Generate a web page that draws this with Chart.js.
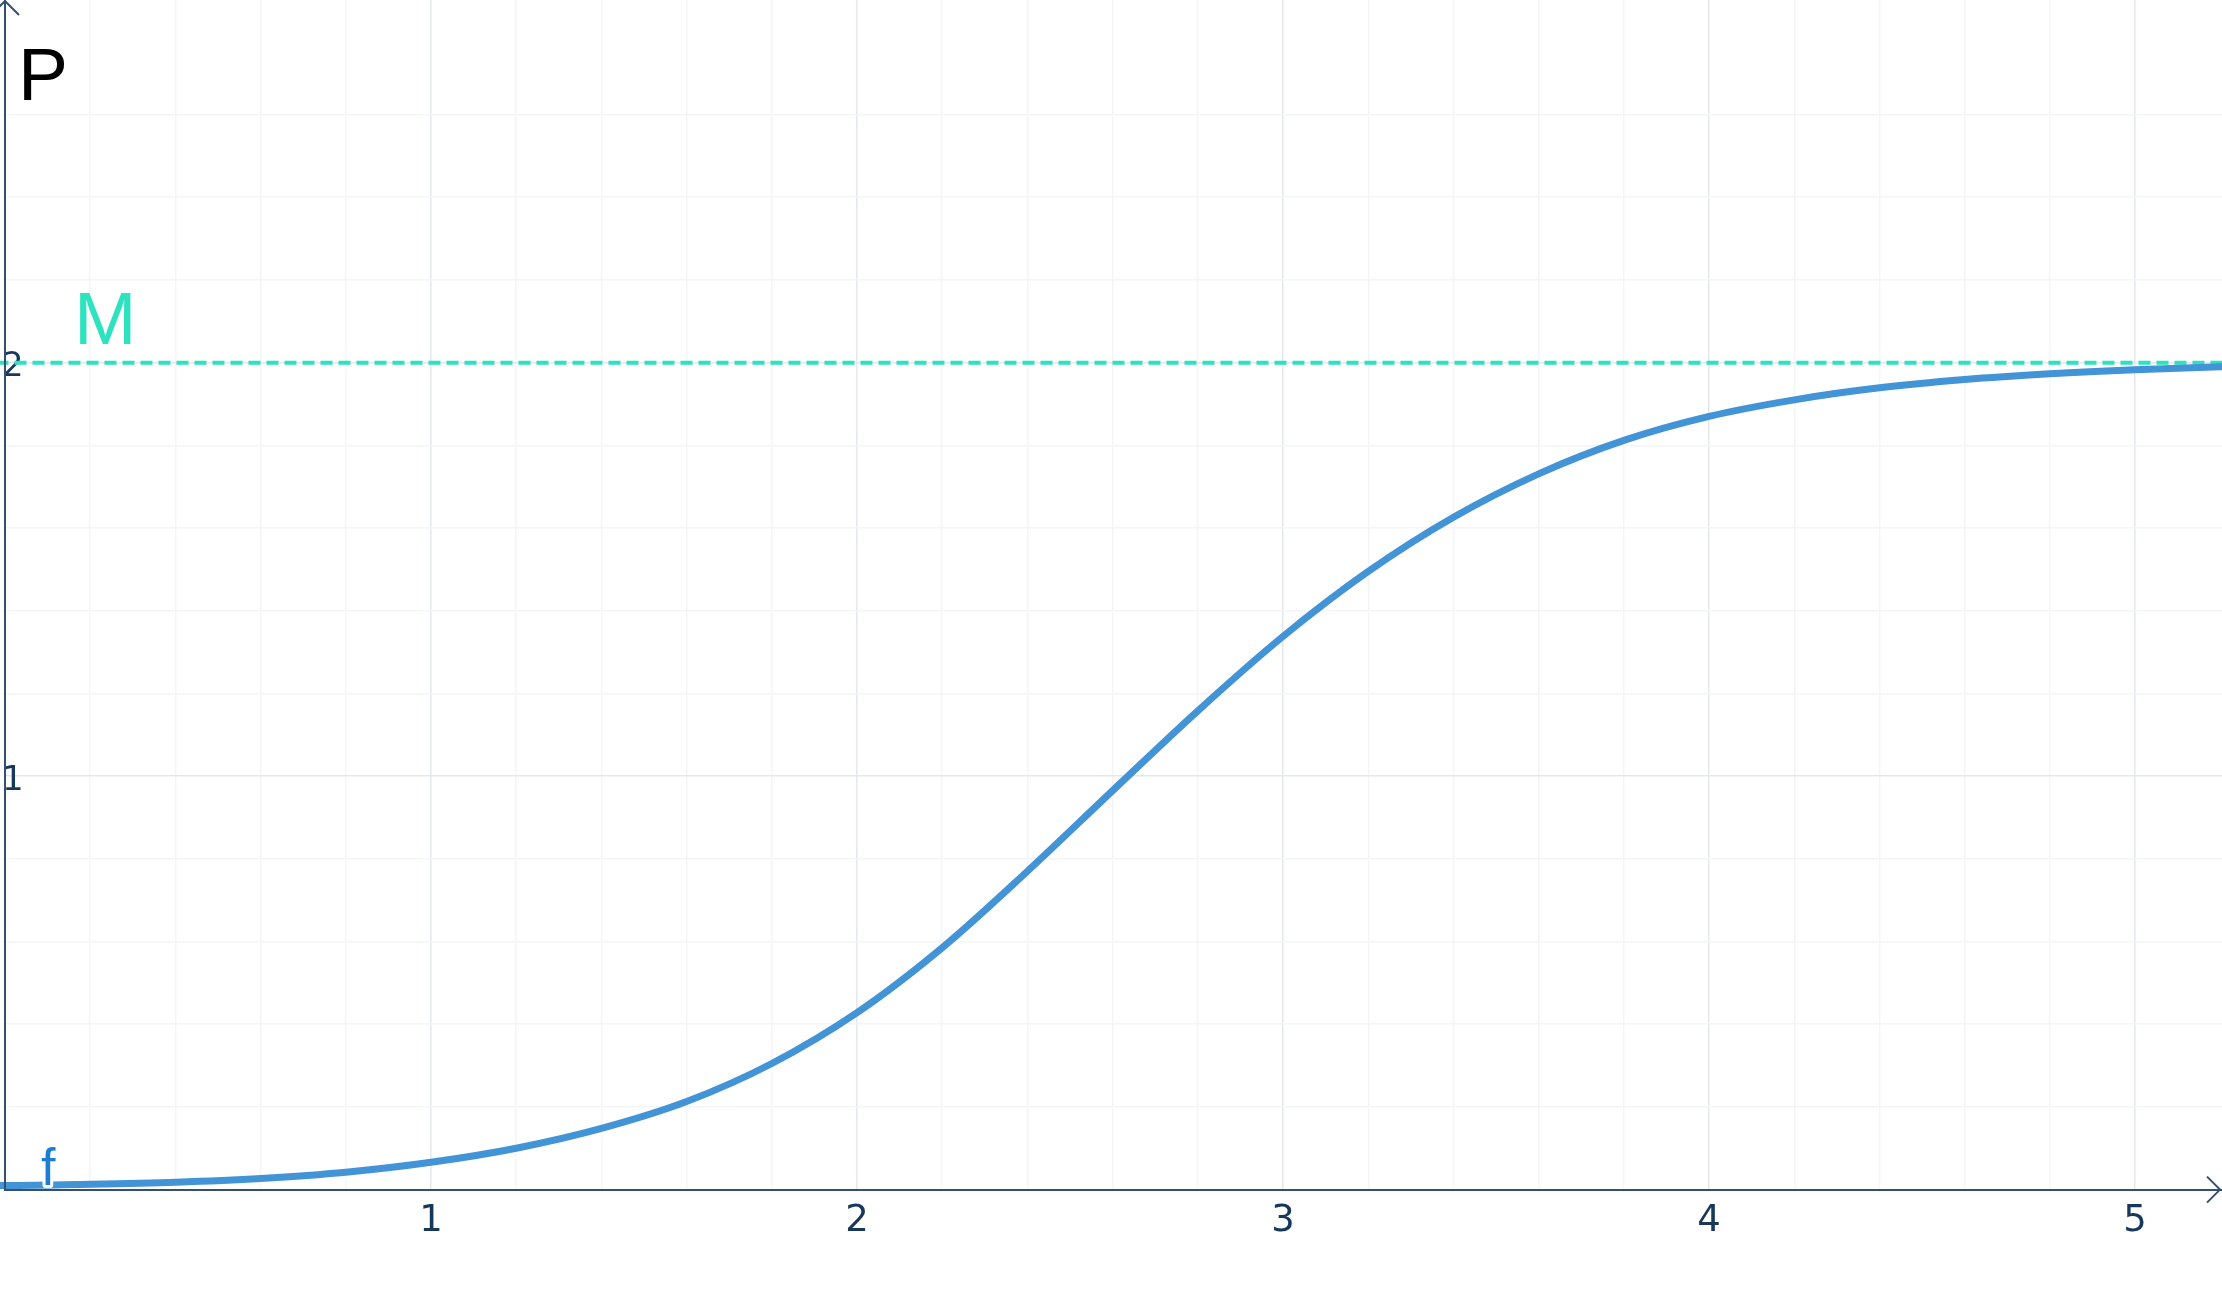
<!DOCTYPE html>
<html>
<head>
<meta charset="utf-8">
<script src="https://cdn.jsdelivr.net/npm/chart.js@4.4.1/dist/chart.umd.min.js"></script>
<style>
  html, body { margin: 0; padding: 0; background: #ffffff; }
  #wrap { width: 2222px; height: 1310px; }
</style>
</head>
<body>
<div id="wrap"><canvas id="chart" width="2222" height="1310"></canvas></div>
<script>
// values
var tValues = [-0.02, 0, 0.2, 0.4, 0.6, 0.8, 1.0, 1.2, 1.4, 1.6, 1.8, 2.0, 2.2, 2.4, 2.6, 2.8,
               3.0, 3.2, 3.4, 3.6, 3.8, 4.0, 4.2, 4.4, 4.6, 4.8, 5.0, 5.2, 5.25];
var pValues = [0.010, 0.010, 0.013, 0.018, 0.027, 0.042, 0.066, 0.100, 0.148, 0.213, 0.305, 0.428, 0.585, 0.770, 0.965, 1.158,
               1.338, 1.495, 1.626, 1.731, 1.812, 1.870, 1.910, 1.939, 1.959, 1.973, 1.983, 1.990, 1.991];
var mLevel = 2;
var mRange = [-0.02, 5.3];
var xTickLabels = [1, 2, 3, 4, 5];
var yTickLabels = [1, 2];

var curveColor = '#4394d6';
var mColor = '#2de2be';
var axisColor = '#34506e';
var tickColor = '#17385a';

var curveData = tValues.map((t, i) => ({ x: t, y: pValues[i] }));
var mData = mRange.map(t => ({ x: t, y: mLevel }));

function onStep(v) {
   return Math.abs(v * 5 - Math.round(v * 5)) < 1e-6;
}
function gridColor(ctx) {
   var v = ctx.tick.value;
   if (!onStep(v)) return 'rgba(0,0,0,0)';
   if (Math.abs(v - Math.round(v)) < 1e-6) return '#e4e7eb';
   return '#f4f5f7';
}
// no extra room for tick labels, the plot runs to the canvas edges
function noPadding(scale) {
   scale.paddingTop = 0;
   scale.paddingBottom = 0;
   scale.paddingLeft = 0;
   scale.paddingRight = 0;
   if (!scale.isHorizontal()) scale.width = 0;
}

// arrows and the P / M / f labels
var decorations = {
   id: 'decorations',
   afterDatasetsDraw(chart) {
      var c = chart.ctx;
      var xs = chart.scales.x, ys = chart.scales.y;
      var x0 = xs.getPixelForValue(0), y0 = ys.getPixelForValue(0);
      c.save();
      c.strokeStyle = axisColor;
      c.lineWidth = 2;
      // y axis line up to the top + arrow
      c.beginPath();
      c.moveTo(x0, y0);
      c.lineTo(x0, 1);
      c.stroke();
      c.beginPath();
      c.moveTo(x0 - 14, 15);
      c.lineTo(x0, 1);
      c.lineTo(x0 + 14, 15);
      c.stroke();
      // x axis arrow
      var xr = chart.width - 2;
      c.beginPath();
      c.moveTo(xr - 13, y0 - 13);
      c.lineTo(xr, y0);
      c.lineTo(xr - 13, y0 + 13);
      c.stroke();

      c.textBaseline = 'alphabetic';
      c.textAlign = 'left';
      c.font = '75px "Liberation Sans", Arial, sans-serif';
      c.fillStyle = '#000000';
      c.fillText('P', x0 + 13, 100);

      c.fillStyle = mColor;
      c.fillText('M', x0 + 69, ys.getPixelForValue(mLevel) - 19);

      c.font = '52px "Liberation Sans", Arial, sans-serif';
      c.lineJoin = 'round';
      c.lineWidth = 6;
      c.strokeStyle = '#ffffff';
      c.strokeText('f', x0 + 36, y0 - 5);
      c.fillStyle = '#1a7fd2';
      c.fillText('f', x0 + 36, y0 - 5);
      c.restore();
   }
};

new Chart(document.getElementById('chart').getContext('2d'), {
   type: 'line',
   data: {
      datasets: [{
         label: 'f',
         data: curveData,
         borderColor: curveColor,
         borderWidth: 7,
         pointRadius: 0,
         fill: false,
         cubicInterpolationMode: 'monotone',
         clip: false
      }, {
         label: 'M',
         data: mData,
         borderColor: mColor,
         borderWidth: 4,
         borderDash: [12, 6],
         pointRadius: 0,
         fill: false,
         clip: false
      }]
   },
   options: {
      responsive: false,
      animation: false,
      events: [],
      layout: { autoPadding: false, padding: { left: 5, right: 0, top: 0, bottom: 56 } },
      plugins: {
         legend: { display: false },
         tooltip: { enabled: false }
      },
      scales: {
         x: {
            type: 'linear',
            position: 'bottom',
            min: 0,
            max: 5.204,
            afterFit: noPadding,
            grid: { color: gridColor, lineWidth: 1.5, drawTicks: false },
            border: { display: true, color: axisColor, width: 2 },
            ticks: {
               stepSize: 0.2,
               autoSkip: false,
               maxRotation: 0,
               padding: 10,
               color: tickColor,
               font: { family: '"DejaVu Sans", sans-serif', size: 37 },
               callback: function (v) {
                  var r = Math.round(v);
                  return (Math.abs(v - r) < 1e-6 && xTickLabels.indexOf(r) >= 0) ? String(r) : '';
               }
            }
         },
         y: {
            type: 'linear',
            position: 'left',
            min: 0,
            max: 2.877,
            afterFit: noPadding,
            grid: { color: gridColor, lineWidth: 1.5, drawTicks: false },
            border: { display: true, color: axisColor, width: 2 },
            ticks: {
               stepSize: 0.2,
               autoSkip: false,
               mirror: true,
               padding: -3,
               labelOffset: 5,
               color: tickColor,
               font: { family: '"DejaVu Sans", sans-serif', size: 34 },
               callback: function (v) {
                  var r = Math.round(v);
                  return (Math.abs(v - r) < 1e-6 && yTickLabels.indexOf(r) >= 0) ? String(r) : '';
               }
            }
         }
      }
   },
   plugins: [decorations]
});
</script>
</body>
</html>
